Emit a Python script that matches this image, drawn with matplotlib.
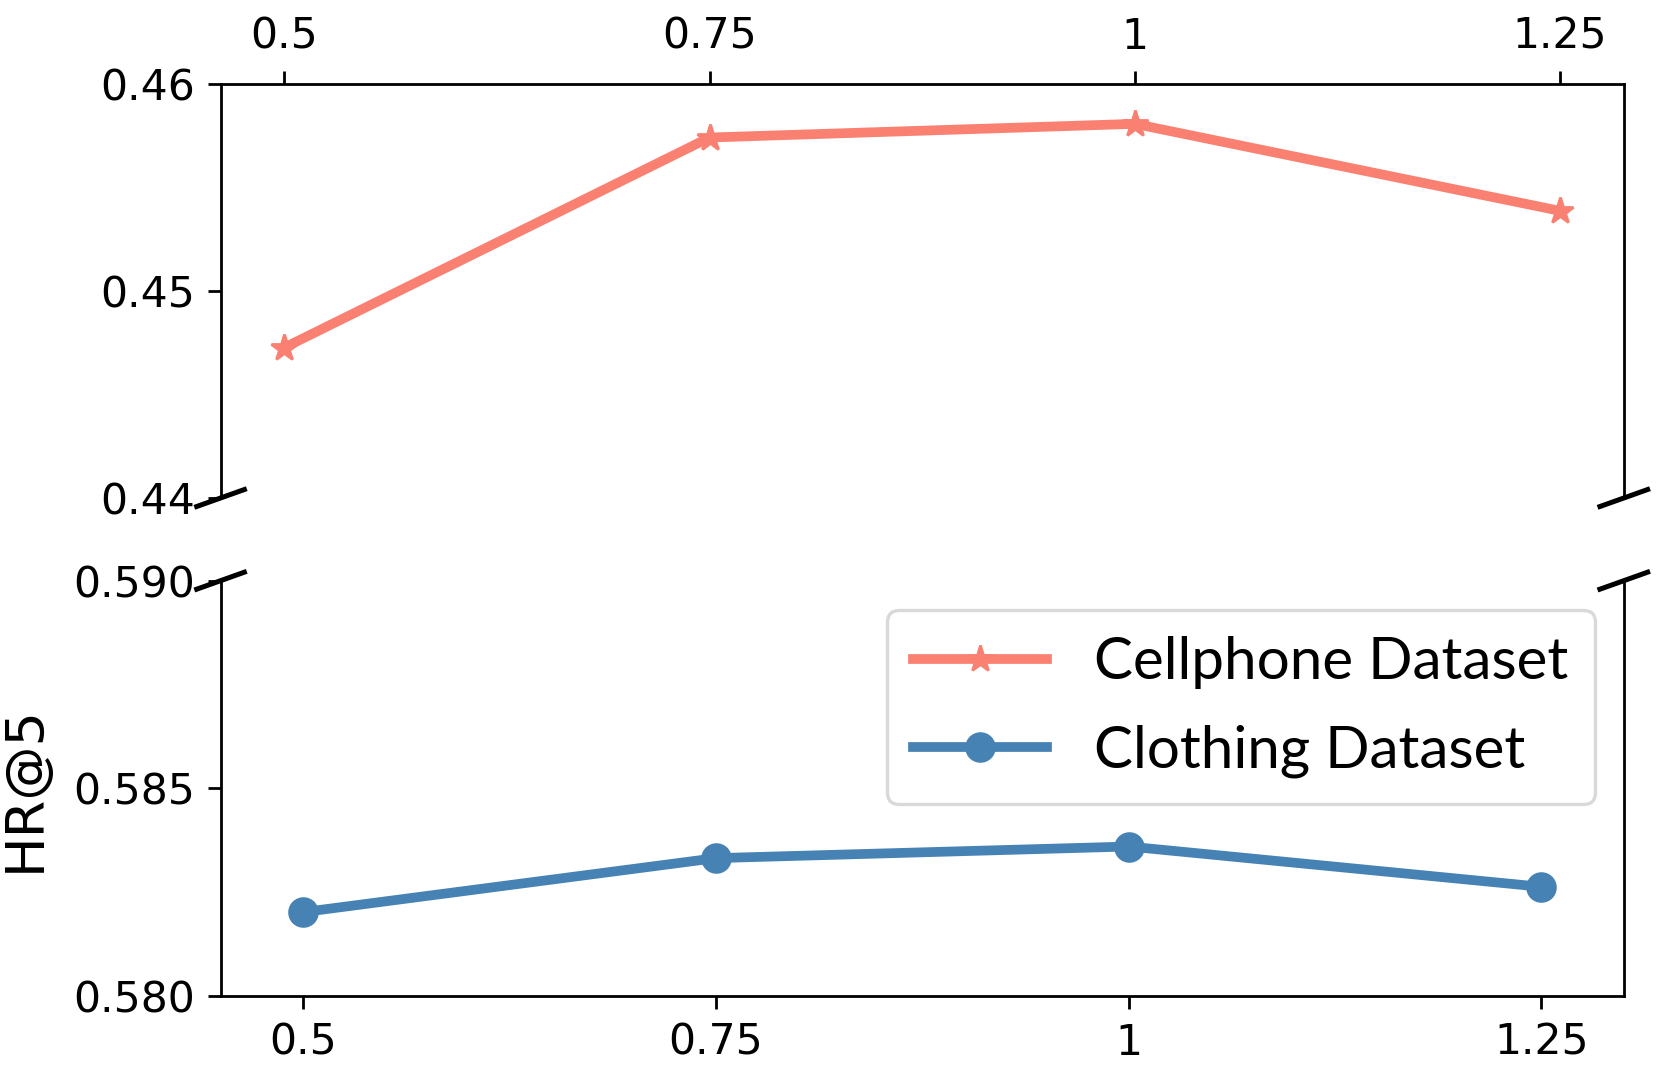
import numpy as np
import matplotlib
matplotlib.use("Agg")
import matplotlib.pyplot as plt

# x values (shared) and HR@5 per dataset
x_vals = [0.5, 0.75, 1.0, 1.25]
x_labels = ["0.5", "0.75", "1", "1.25"]
cellphone = [0.44726, 0.45740, 0.45806, 0.45386]
clothing = [0.58202, 0.58332, 0.58360, 0.58263]

top_yticks = [0.44, 0.45, 0.46]
top_ylabels = ["0.44", "0.45", "0.46"]
bot_yticks = [0.580, 0.585, 0.590]
bot_ylabels = ["0.580", "0.585", "0.590"]

SALMON = "#FA8072"
STEEL = "#4682B4"

fig = plt.figure(figsize=(8.31, 5.425), dpi=200)
ax_top = fig.add_axes([0.1327, 0.541, 0.977 - 0.1327, 0.9229 - 0.541])
ax_bot = fig.add_axes([0.1327, 0.082, 0.977 - 0.1327, 0.4648 - 0.082])

l1, = ax_top.plot(x_vals, cellphone, color=SALMON, lw=3.5, marker="*", ms=10,
                  label="Cellphone Dataset")
l2, = ax_bot.plot(x_vals, clothing, color=STEEL, lw=3.5, marker="o", ms=10,
                  label="Clothing Dataset")

ax_top.set_ylim(0.44, 0.46)
ax_bot.set_ylim(0.580, 0.590)
ax_top.set_xlim(0.4625, 1.2875)
ax_bot.set_xlim(0.45, 1.30)

ax_top.spines["bottom"].set_visible(False)
ax_bot.spines["top"].set_visible(False)
ax_top.xaxis.tick_top()
ax_bot.xaxis.tick_bottom()

for a in (ax_top, ax_bot):
    a.set_xticks(x_vals)
    a.set_xticklabels(x_labels)
    a.tick_params(labelsize=15.3, length=4.8, width=1, pad=4.5)
    for s in a.spines.values():
        s.set_linewidth(1.0)
ax_top.set_yticks(top_yticks)
ax_top.set_yticklabels(top_ylabels)
ax_bot.set_yticks(bot_yticks)
ax_bot.set_yticklabels(bot_ylabels)

ax_bot.set_ylabel("HR@5", fontsize=19.5)
ax_bot.yaxis.set_label_coords(-0.121, 0.5)

# break marks
dx, dy = 0.017, 0.0205
kw = dict(color="k", clip_on=False, lw=1.8)
ax_top.plot((-dx, dx), (-dy, dy), transform=ax_top.transAxes, **kw)
ax_top.plot((1 - dx, 1 + dx), (-dy, dy), transform=ax_top.transAxes, **kw)
ax_bot.plot((-dx, dx), (1 - dy, 1 + dy), transform=ax_bot.transAxes, **kw)
ax_bot.plot((1 - dx, 1 + dx), (1 - dy, 1 + dy), transform=ax_bot.transAxes, **kw)

leg = ax_bot.legend(handles=[l1, l2], loc="upper right",
                    prop={"family": ["Lato", "DejaVu Sans"], "size": 21},
                    handlelength=2.3, handletextpad=0.8, borderaxespad=0.5,
                    labelspacing=0.6, borderpad=0.45,
                    framealpha=1.0, edgecolor="#d9d9d9")
leg.get_frame().set_linewidth(1.2)

fig.savefig("out.png", dpi=200)
